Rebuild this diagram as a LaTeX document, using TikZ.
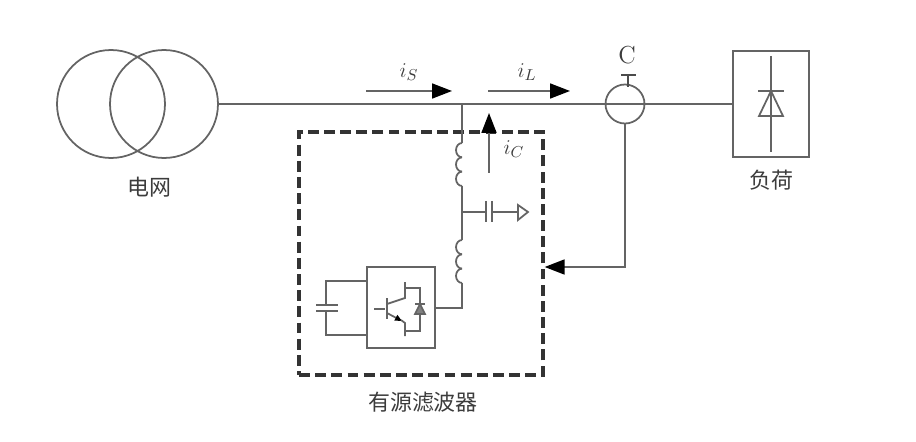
\documentclass[tikz,border=0pt]{standalone}
\usepackage{fontspec}
\newfontfamily\cjk{Noto Sans CJK SC}
\definecolor{wiregray}{RGB}{100, 100, 100}
\definecolor{textgray}{RGB}{60, 60, 60}
\usetikzlibrary{arrows.meta, positioning, calc}

\begin{document}
\begin{tikzpicture}[
  x=0.02cm, y=-0.02cm,
  wire/.style={draw=wiregray, line width=1pt},
  curarrow/.style={draw=wiregray, line width=1pt, -{Triangle[length=0.4cm, width=0.3cm, color=black]}},
  gridring/.style={circle, draw=wiregray, line width=1pt, minimum size=2.16cm, inner sep=0pt},
  ctring/.style={circle, draw=wiregray, line width=1pt, minimum size=0.78cm, inner sep=0pt},
  unitbox/.style={draw=wiregray, line width=1pt, inner sep=0pt},
  cnlabel/.style={font=\cjk\fontsize{12.5}{15}\selectfont, text=textgray, inner sep=0pt},
  curlabel/.style={font=\fontsize{13}{15}\selectfont, text=textgray, inner sep=0pt}
]
  \useasboundingbox (0, 0) rectangle (916, 442);

  \node[gridring] (gridl) at (111, 104) {};
  \node[gridring] (gridr) at (164, 104) {};
  \node[cnlabel] (gridtxt) at (149, 187) {电网};

  \node[unitbox, minimum width=1.52cm, minimum height=2.12cm] (load) at (771, 104) {};
  \node[cnlabel] (loadtxt) at (771, 180) {负荷};
  \node[ctring] (ct) at (625, 104) {};
  \node[curlabel, font=\fontsize{14}{16}\selectfont] (cttxt) at (627, 55) {C};

  \draw[wire] (gridr.east) -- (load.west);

  \node[draw=black!80, line width=1.9pt, dash pattern=on 6.2pt off 3pt, minimum width=4.88cm, minimum height=4.86cm, inner sep=0pt] (filter) at (421, 253.5) {};
  \node[cnlabel] (filtertxt) at (423, 402) {有源滤波器};

  \coordinate (istart) at (366, 91);
  \coordinate (iend) at (452, 91);
  \coordinate (lstart) at (488, 91);
  \coordinate (lend) at (570, 91);
  \coordinate (cstart) at (489, 173);
  \coordinate (cend) at (489, 113);
  \draw[curarrow] (istart) -- (iend);
  \draw[curarrow] (lstart) -- (lend);
  \draw[curarrow] (cstart) -- (cend);
  \node[curlabel] (islabel) at (409, 72) {$i_S$};
  \node[curlabel] (illabel) at (527, 72) {$i_L$};
  \node[curlabel] (iclabel) at (514, 149) {$i_C$};

  \node[unitbox, minimum width=1.36cm, minimum height=1.62cm] (inv) at (401, 307.5) {};

  \coordinate (tap) at (462, 104);
  \coordinate (coila) at (462, 143);
  \coordinate (coilb) at (462, 186);
  \coordinate (coilc) at (462, 240);
  \coordinate (coild) at (462, 283);
  \coordinate (invtap) at (462, 308);
  \coordinate (captap) at (462, 212);
  \draw[wire] (tap) -- (coila);
  \draw[wire] (coilb) -- (coilc);
  \draw[wire] (coild) -- (invtap) -- (inv.east |- invtap);
  \foreach \ystart in {143, 240} {
    \foreach \k in {0, 1, 2} {
      \draw[wire] (462, \ystart + \k*14.33) arc[start angle=90, end angle=270, x radius=0.12cm, y radius=0.143cm];
    }
  }

  \coordinate (plateh) at (486, 212);
  \coordinate (platei) at (492, 212);
  \coordinate (gnd) at (518, 212);
  \draw[wire] (captap) -- (plateh);
  \draw[wire] (platei) -- (gnd);
  \draw[wire] (486, 201) -- (486, 222);
  \draw[wire] (492, 201) -- (492, 222);
  \draw[wire] (gnd) -- (518, 205) -- (528, 212) -- (518, 220) -- cycle;

  \coordinate (ctdown) at (ct.south |- 0, 267);
  \draw[curarrow] (ct.south) -- (ctdown) -- (filter.east |- ctdown);

  \draw[draw=black!70, line width=1.5pt] (628, 75) -- (628, 87);
  \draw[draw=black!70, line width=1.5pt] (621, 75) -- (636, 75);

  \draw[wire] (771, 56) -- (771, 152);
  \draw[wire] (758, 91) -- (784, 91);
  \draw[wire] (771, 91) -- (759, 116) -- (783, 116) -- cycle;

  \coordinate (capu) at (326, 281);
  \coordinate (capd) at (326, 335);
  \draw[wire] (inv.west |- capu) -- (capu) -- (326, 305);
  \draw[wire] (inv.west |- capd) -- (capd) -- (326, 311);
  \draw[wire] (316, 305) -- (338, 305);
  \draw[wire] (316, 311) -- (338, 311);

  \draw[wire] (374, 309) -- (385, 309);
  \draw[wire, line width=1.2pt] (387, 298) -- (387, 319);
  \draw[wire] (387, 304) -- (405, 298) -- (405, 282);
  \draw[wire] (405, 288) -- (420, 288) -- (420, 331) -- (405, 331);
  \draw[wire, -{Triangle[length=0.14cm, width=0.12cm, color=black]}] (387, 313) -- (402, 321);
  \draw[wire] (401, 320) -- (405, 323) -- (405, 336);
  \draw[wire] (415, 304) -- (425, 304);
  \draw[wire, fill=black!50] (420, 304) -- (415, 314) -- (425, 314) -- cycle;
\end{tikzpicture}
\end{document}
